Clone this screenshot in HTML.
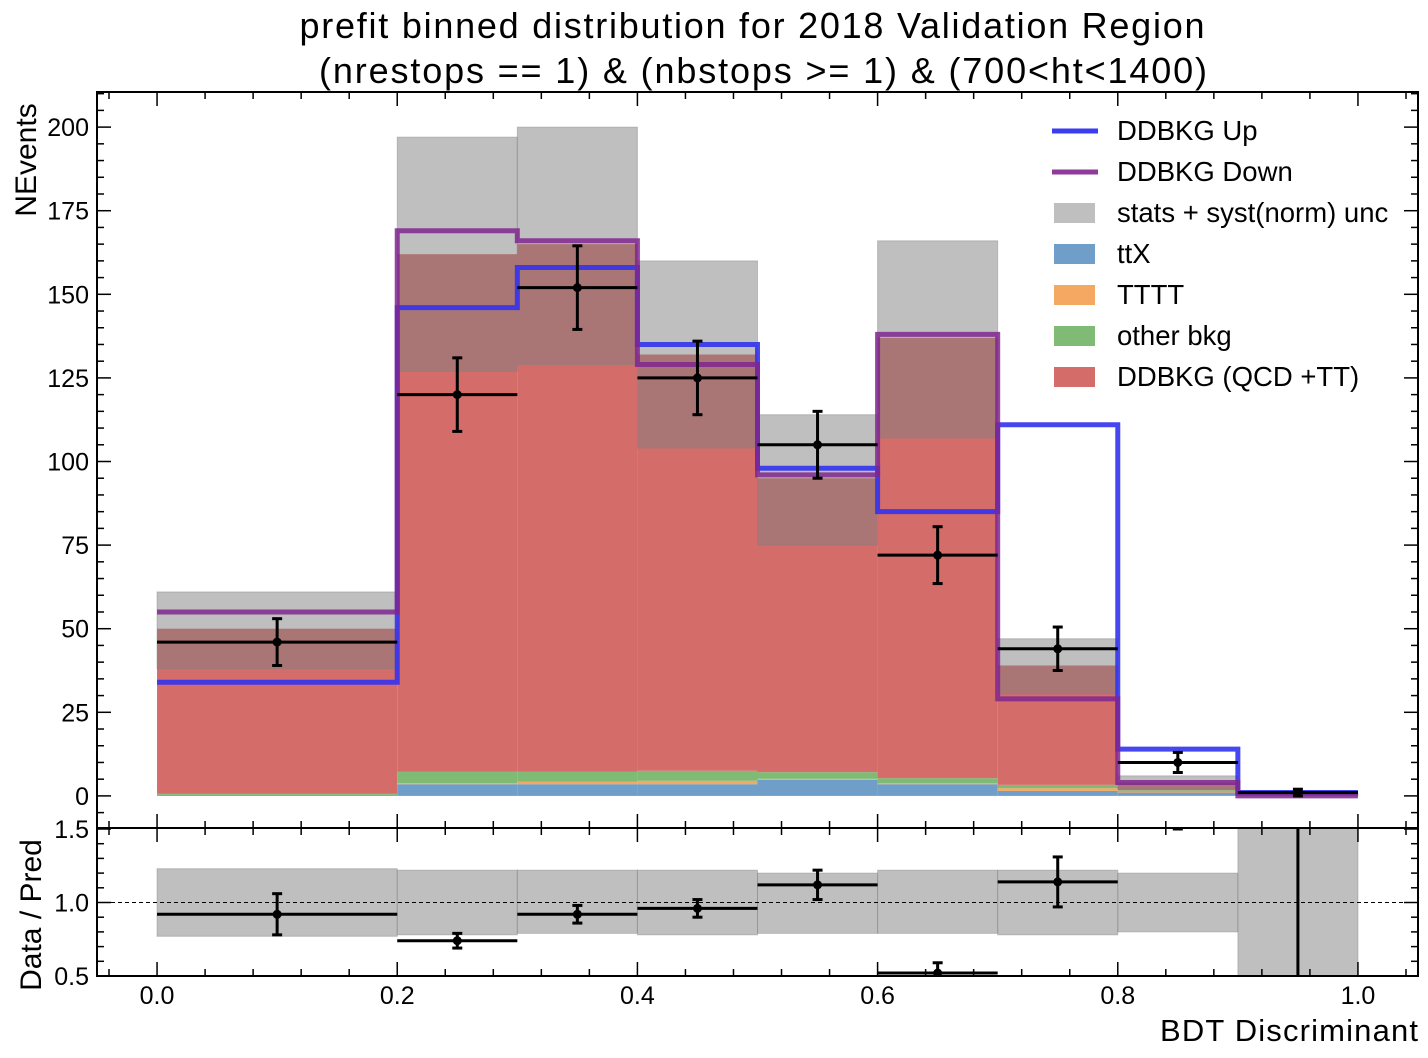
<!DOCTYPE html>
<html><head><meta charset="utf-8"><style>
html,body{margin:0;background:#fff;overflow:hidden;width:1428px;height:1058px;}
svg{display:block;font-family:"Liberation Sans",sans-serif;}
</style></head><body>
<svg id="c" width="1428" height="1058"></svg>
<script>
const edges=[0,0.2,0.3,0.4,0.5,0.6,0.7,0.8,0.9,1.0];
const ttX=[0.3,3.5,3.5,3.5,4.8,3.5,1.5,1,0.1];
const tttt=[0,0.3,0.8,1,0.3,0.3,0.8,0.2,0];
const other=[0.3,3.5,3,3,2,1.5,1,0.5,0];
const total=[50,162,165,132,95,137,39,4,0.3];
const uncLo=[38,127,129,104,75,107,30.5,2,0];
const uncHi=[61,197,200,160,114,166,47,6,0.6];
const upVals=[34,146,158,135,98,85,111,14,1];
const downVals=[55,169,166,129,96,138,29,4,0];
const dataVals=[46,120,152,125,105,72,44,10,1];
const dataErr=[7,11,12.5,11,10,8.5,6.5,3,1];
const ratioVals=[0.92,0.74,0.92,0.96,1.12,0.52,1.14,1.55,3.0];
const ratioErr=[0.14,0.05,0.06,0.06,0.1,0.07,0.17,0.05,3.0];
const ratioLo=[0.77,0.78,0.79,0.78,0.79,0.79,0.78,0.8,0.0];
const ratioHi=[1.23,1.22,1.22,1.22,1.2,1.22,1.22,1.2,2.0];
const yTicks=[0,25,50,75,100,125,150,175,200];
const xTicks=[0,0.2,0.4,0.6,0.8,1.0];
const rTicks=[0.5,1.0,1.5];

const svg=document.getElementById('c');
const NS='http://www.w3.org/2000/svg';
const L=97,R=1418,T=92,MB=828,RB=976;
const X=v=>L+(v+0.05)/1.1*(R-L);
const Y=v=>MB-(v+9.6)/(210.5+9.6)*(MB-T);
const RY=v=>829+(1.5-v)*147;
function mk(tag,at,parent){const e=document.createElementNS(NS,tag);for(const k in at)e.setAttribute(k,at[k]);(parent||svg).appendChild(e);return e;}
function txt(s,x,y,size,anchor,parent){const t=mk('text',{x:x,y:y,'font-size':size,'text-anchor':anchor||'middle',fill:'#000'},parent);t.textContent=s;return t;}

const defs=mk('defs',{});
const cp=mk('clipPath',{id:'cm'},defs);mk('rect',{x:L,y:T,width:R-L,height:MB-T},cp);
const cr=mk('clipPath',{id:'cr'},defs);mk('rect',{x:L,y:MB,width:R-L,height:RB-MB},cr);

const gm=mk('g',{'clip-path':'url(#cm)'});


for(let i=0;i<9;i++){
  const x0=X(edges[i]),x1=X(edges[i+1]);
  const bkg=ttX[i]+tttt[i]+other[i];
  const segs=[[0,ttX[i],'#6f9ec8','ttx'],[ttX[i],ttX[i]+tttt[i],'#f4a862','tttt'],[ttX[i]+tttt[i],bkg,'#7fbb74','other-bkg'],[bkg,total[i],'#d46c6a','ddbkg']];
  for(const s of segs){
    const r=mk('rect',{x:x0,y:Y(s[1]),width:x1-x0,height:Math.max(0,Y(s[0])-Y(s[1])),fill:s[2]},gm);
    
    
  }
}
for(let i=0;i<9;i++){
  const x0=X(edges[i]),x1=X(edges[i+1]);
  const r=mk('rect',{x:x0,y:Y(uncHi[i]),width:x1-x0,height:Y(uncLo[i])-Y(uncHi[i]),fill:'rgba(128,128,128,0.5)',stroke:'rgba(128,128,128,0.4)'},gm);
  
  
}
function step(vals,color,name,op){
  let d='';
  for(let i=0;i<9;i++){d+=(i?'L':'M')+X(edges[i])+','+Y(vals[i])+'L'+X(edges[i+1])+','+Y(vals[i]);}
  const p=mk('path',{d:d,fill:'none',stroke:color,'stroke-width':5,'stroke-opacity':op},gm);
  
  
}
step(upVals,'#3333ee','ddbkg-up-line',0.9);
step(downVals,'#80268f','ddbkg-down-line',0.85);
function errbar(g,xc,x0,x1,yc,ylo,yhi,name){
  const gg=mk('g',{stroke:'#000','stroke-width':3},g);
  
  
  mk('line',{x1:x0,x2:x1,y1:yc,y2:yc},gg);
  mk('line',{x1:xc,x2:xc,y1:ylo,y2:yhi},gg);
  mk('line',{x1:xc-5,x2:xc+5,y1:ylo,y2:ylo},gg);
  mk('line',{x1:xc-5,x2:xc+5,y1:yhi,y2:yhi},gg);
  mk('circle',{cx:xc,cy:yc,r:3,fill:'#000'},gg);
}
for(let i=0;i<9;i++){
  const xc=X((edges[i]+edges[i+1])/2);
  errbar(gm,xc,X(edges[i]),X(edges[i+1]),Y(dataVals[i]),Y(dataVals[i]-dataErr[i]),Y(dataVals[i]+dataErr[i]),'data-point-'+i);
}
const gr=mk('g',{'clip-path':'url(#cr)'});


for(let i=0;i<9;i++){
  const x0=X(edges[i]),x1=X(edges[i+1]);
  const r=mk('rect',{x:x0,y:RY(ratioHi[i]),width:x1-x0,height:RY(ratioLo[i])-RY(ratioHi[i]),fill:'rgba(128,128,128,0.5)',stroke:'rgba(128,128,128,0.4)'},gr);
  
  
}
mk('line',{x1:L,x2:R,y1:RY(1),y2:RY(1),stroke:'#000','stroke-width':1,'stroke-dasharray':'4,3'},gr);
for(let i=0;i<9;i++){
  const xc=X((edges[i]+edges[i+1])/2);
  errbar(gr,xc,X(edges[i]),X(edges[i+1]),RY(ratioVals[i]),RY(ratioVals[i]-ratioErr[i]),RY(ratioVals[i]+ratioErr[i]),'ratio-point-'+i);
}
mk('rect',{x:L,y:T,width:R-L,height:RB-T,fill:'none',stroke:'#000','stroke-width':2});
mk('line',{x1:L,x2:R,y1:MB,y2:MB,stroke:'#000','stroke-width':2});
const tg=mk('g',{stroke:'#000','stroke-width':1.5});
for(const v of yTicks){const y=Y(v);mk('line',{x1:L,x2:L+14,y1:y,y2:y},tg);mk('line',{x1:R,x2:R-14,y1:y,y2:y},tg);
  const t=txt(String(v),L-8,y+9,25,'end');}
for(let v=-5;v<=210;v+=5){if(v%25==0)continue;const y=Y(v);mk('line',{x1:L,x2:L+7,y1:y,y2:y},tg);mk('line',{x1:R,x2:R-7,y1:y,y2:y},tg);}
for(const v of xTicks){const x=X(v);
  mk('line',{x1:x,x2:x,y1:T,y2:T+14},tg);mk('line',{x1:x,x2:x,y1:MB,y2:MB-14},tg);mk('line',{x1:x,x2:x,y1:MB,y2:MB+14},tg);mk('line',{x1:x,x2:x,y1:RB,y2:RB-14},tg);
  const t=txt(v.toFixed(1),x,1004,25);}
for(let v=-0.04;v<=1.05;v+=0.04){const x=X(v);if(Math.abs(v*5-Math.round(v*5))<0.01)continue;
  mk('line',{x1:x,x2:x,y1:T,y2:T+7},tg);mk('line',{x1:x,x2:x,y1:MB,y2:MB-7},tg);mk('line',{x1:x,x2:x,y1:MB,y2:MB+7},tg);mk('line',{x1:x,x2:x,y1:RB,y2:RB-7},tg);}
for(const v of rTicks){const y=RY(v);mk('line',{x1:L,x2:L+14,y1:y,y2:y},tg);mk('line',{x1:R,x2:R-14,y1:y,y2:y},tg);
  const t=txt(v.toFixed(1),L-8,y+9,25,'end');}
for(let v=0.6;v<1.5;v+=0.1){if(Math.abs(v-1)<0.01)continue;const y=RY(v);mk('line',{x1:L,x2:L+7,y1:y,y2:y},tg);mk('line',{x1:R,x2:R-7,y1:y,y2:y},tg);}
let t=txt('prefit binned distribution for 2018 Validation Region',752,38,36);t.setAttribute('textLength','905');
t=txt('(nrestops == 1) & (nbstops >= 1) & (700<ht<1400)',763,83,36);t.setAttribute('textLength','888');
t=txt('NEvents',36,160,30);t.setAttribute('transform','rotate(-90 36 160)');
t=txt('Data / Pred',41,915,30);t.setAttribute('transform','rotate(-90 41 915)');
t=txt('BDT Discriminant',1418,1041,31,'end');t.setAttribute('textLength','258');
const legNames=['DDBKG Up','DDBKG Down','stats + syst(norm) unc','ttX','TTTT','other bkg','DDBKG (QCD +TT)'];
const legColors=['#3b3bf0','#8e3b9a','#bfbfbf','#6f9ec8','#f4a862','#7fbb74','#d46c6a'];
for(let i=0;i<7;i++){
  const y=131+i*41;
  const g=mk('g',{});
  
  
  if(i<2)mk('line',{x1:1052,x2:1098,y1:y,y2:y,stroke:legColors[i],'stroke-width':5},g);
  else mk('rect',{x:1054,y:y-10,width:41,height:20,fill:legColors[i]},g);
  txt(legNames[i],1117,y+9,27.5,'start',g);
}
</script>
</body></html>
